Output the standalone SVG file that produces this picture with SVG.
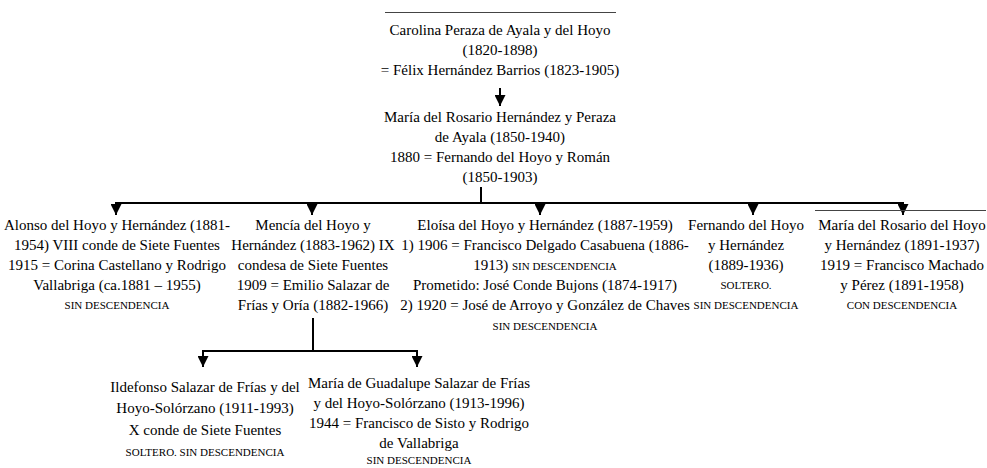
<svg xmlns="http://www.w3.org/2000/svg" width="987" height="468" viewBox="0 0 987 468">
<style>
text{font-family:"Liberation Serif","Times New Roman",serif;font-size:15px;fill:#000;text-anchor:middle}
.sc{font-size:11px}
.conn{fill:none;stroke:#000;stroke-width:2}
.rule{stroke:#444;stroke-width:1}
</style>
<defs>
<marker id="ah" viewBox="0 0 10 10" refX="10" refY="5" markerWidth="11" markerHeight="11" markerUnits="userSpaceOnUse" orient="auto">
<path d="M0,0 L10,5 L0,10 z" fill="#000"/>
</marker>
</defs>
<rect width="987" height="468" fill="#fff"/>
<g id="connectors">
<path class="conn" d="M500,88 V106" marker-end="url(#ah)"/>
<path class="conn" d="M481,187 V203"/>
<path class="conn" d="M116,203 H903"/>
<path class="conn" d="M116,202 V215" marker-end="url(#ah)"/>
<path class="conn" d="M312,202 V215" marker-end="url(#ah)"/>
<path class="conn" d="M540,202 V215" marker-end="url(#ah)"/>
<path class="conn" d="M753,202 V215" marker-end="url(#ah)"/>
<path class="conn" d="M903,202 V215" marker-end="url(#ah)"/>
<path class="conn" d="M313,318 V351 M203,351 H417"/>
<path class="conn" d="M203,350 V367" marker-end="url(#ah)"/>
<path class="conn" d="M417,350 V367" marker-end="url(#ah)"/>
</g>
<g id="n-carolina">
<line class="rule" x1="385" y1="12.5" x2="616" y2="12.5"/>
<text x="500" y="35">Carolina Peraza de Ayala y del Hoyo</text>
<text x="500" y="55">(1820-1898)</text>
<text x="500" y="75">= Félix Hernández Barrios (1823-1905)</text>
</g>
<g id="n-maria-rosario">
<text x="500" y="122">María del Rosario Hernández y Peraza</text>
<text x="500" y="142">de Ayala (1850-1940)</text>
<text x="500" y="162">1880 = Fernando del Hoyo y Román</text>
<text x="500" y="182">(1850-1903)</text>
</g>
<g id="n-alonso">
<text x="117" y="230">Alonso del Hoyo y Hernández (1881-</text>
<text x="117" y="250">1954) VIII conde de Siete Fuentes</text>
<text x="117" y="270">1915 = Corina Castellano y Rodrigo</text>
<text x="117" y="290">Vallabriga (ca.1881 – 1955)</text>
<text class="sc" x="117" y="309">SIN DESCENDENCIA</text>
</g>
<g id="n-mencia">
<text x="313" y="230">Mencía del Hoyo y</text>
<text x="313" y="250">Hernández (1883-1962) IX</text>
<text x="313" y="270">condesa de Siete Fuentes</text>
<text x="313" y="290">1909 = Emilio Salazar de</text>
<text x="313" y="310">Frías y Oría (1882-1966)</text>
</g>
<g id="n-eloisa">
<text x="545" y="230">Eloísa del Hoyo y Hernández (1887-1959)</text>
<text x="545" y="250">1) 1906 = Francisco Delgado Casabuena (1886-</text>
<text x="545" y="270">1913) <tspan class="sc">SIN DESCENDENCIA</tspan></text>
<text x="545" y="290">Prometido: José Conde Bujons (1874-1917)</text>
<text x="545" y="310">2) 1920 = José de Arroyo y González de Chaves</text>
<text class="sc" x="545" y="330">SIN DESCENDENCIA</text>
</g>
<g id="n-fernando">
<text x="746" y="230">Fernando del Hoyo</text>
<text x="746" y="250">y Hernández</text>
<text x="746" y="270">(1889-1936)</text>
<text class="sc" x="746" y="289">SOLTERO.</text>
<text class="sc" x="746" y="309">SIN DESCENDENCIA</text>
</g>
<g id="n-maria-rosario-hoyo">
<line class="rule" x1="815" y1="210.5" x2="986" y2="210.5"/>
<text x="902" y="230">María del Rosario del Hoyo</text>
<text x="902" y="250">y Hernández (1891-1937)</text>
<text x="902" y="270">1919 = Francisco Machado</text>
<text x="902" y="290">y Pérez (1891-1958)</text>
<text class="sc" x="902" y="309">CON DESCENDENCIA</text>
</g>
<g id="n-ildefonso">
<text x="205" y="392">Ildefonso Salazar de Frías y del</text>
<text x="205" y="413">Hoyo-Solórzano (1911-1993)</text>
<text x="205" y="435">X conde de Siete Fuentes</text>
<text class="sc" x="205" y="456">SOLTERO. SIN DESCENDENCIA</text>
</g>
<g id="n-guadalupe">
<text x="419" y="388">María de Guadalupe Salazar de Frías</text>
<text x="419" y="408">y del Hoyo-Solórzano (1913-1996)</text>
<text x="419" y="428">1944 = Francisco de Sisto y Rodrigo</text>
<text x="419" y="448">de Vallabriga</text>
<text class="sc" x="419" y="464">SIN DESCENDENCIA</text>
</g>
</svg>
